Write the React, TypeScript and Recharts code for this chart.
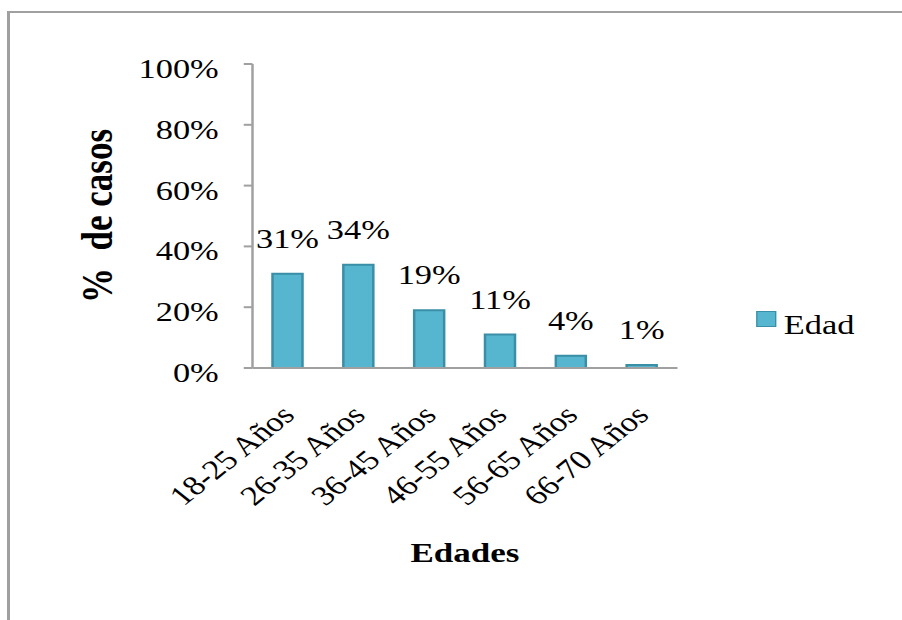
import React from 'react';
import { BarChart, Bar, XAxis, YAxis, LabelList, Legend, Label } from 'recharts';

const categories = ['18-25 Años', '26-35 Años', '36-45 Años', '46-55 Años', '56-65 Años', '66-70 Años'];
const edadValues = [31, 34, 19, 11, 4, 1];
const yTicks = [0, 20, 40, 60, 80, 100];
const seriesName = 'Edad';
const xTitle = 'Edades';
const yTitle = '%  de casos';

const data = categories.map((c, i) => ({ category: c, edad: edadValues[i] }));

const FONT = '"Liberation Serif", "Times New Roman", Times, serif';
const STRETCH = 1.25;
const FILL = '#57b6cf';
const STROKE = '#3a8ea6';
const AXIS = '#a0a0a0';

const XTick = (props: any) => {
  const { x, y, payload } = props;
  return (
    <g transform={`translate(${x},${y})`}>
      <text textAnchor="end" transform="rotate(-45)" dy="0.34em" fontSize={27.5} fontFamily={FONT} fill="#000">
        {payload.value}
      </text>
    </g>
  );
};

const YTick = (props: any) => {
  const { x, y, payload } = props;
  return (
    <text x={x} y={y} dy={14} textAnchor="end" fontSize={27.5} fontFamily={FONT} fill="#000">
      {`${payload.value}%`}
    </text>
  );
};

const renderYTitle = (props: any) => {
  const vb = props.viewBox || {};
  const cx = (vb.x || 0) + 78;
  const cy = (vb.y || 0) + (vb.height || 0) / 2;
  return (
    <text
      x={cx}
      y={cy}
      transform={`rotate(-90 ${cx} ${cy})`}
      textAnchor="middle"
      dominantBaseline="central"
      fontSize={35}
      fontWeight="bold"
      fontFamily={FONT}
      fill="#000"
      style={{ whiteSpace: 'pre' }}
    >
      {yTitle}
    </text>
  );
};

const renderXTitle = (props: any) => {
  const vb = props.viewBox || {};
  const cx = (vb.x || 0) + (vb.width || 0) / 2;
  const by = (vb.y || 0) + 194;
  return (
    <text x={cx} y={by} textAnchor="middle" fontSize={28} fontWeight="bold" fontFamily={FONT} fill="#000">
      {xTitle}
    </text>
  );
};

const renderLegend = (props: any) => {
  const items = props.payload || [];
  return (
    <div>
      {items.map((it: any, i: number) => (
        <div key={i} style={{ display: 'flex', alignItems: 'flex-start' }}>
          <span
            style={{
              display: 'inline-block',
              width: 16,
              height: 16,
              marginTop: 2,
              background: FILL,
              border: `1.5px solid ${STROKE}`,
              boxSizing: 'border-box',
            }}
          />
          <span style={{ marginLeft: 6, fontSize: 27.5, fontFamily: FONT, color: '#000', lineHeight: 'normal' }}>
            {it.value}
          </span>
        </div>
      ))}
    </div>
  );
};

export default function App() {
  return (
    <div style={{ position: 'absolute', left: 0, top: 0, width: 902, height: 620, overflow: 'hidden', background: '#fff' }}>
      <div
        style={{
          position: 'absolute',
          left: 7,
          top: 11,
          width: 1200,
          height: 1200,
          borderLeft: `3px solid ${AXIS}`,
          borderTop: `2px solid ${AXIS}`,
        }}
      />
      <div style={{ position: 'absolute', left: 0, top: 0, width: 722, height: 620, transform: `scaleX(${STRETCH})`, transformOrigin: '0 0' }}>
        <BarChart width={722} height={620} data={data} margin={{ top: 64, right: 180, bottom: 52, left: 0 }} barSize={24}>
          <XAxis
            dataKey="category"
            interval={0}
            tickLine={false}
            tickSize={0}
            tickMargin={42}
            tick={<XTick />}
            axisLine={{ stroke: AXIS, strokeWidth: 2 }}
            height={200}
          >
            <Label content={renderXTitle} />
          </XAxis>
          <YAxis
            width={202}
            domain={[0, 100]}
            ticks={yTicks}
            interval={0}
            tickSize={7}
            tickMargin={20}
            tick={<YTick />}
            tickLine={{ stroke: AXIS, strokeWidth: 2 }}
            axisLine={{ stroke: AXIS, strokeWidth: 2 }}
          >
            <Label content={renderYTitle} />
          </YAxis>
          <Legend
            layout="horizontal"
            align="center"
            verticalAlign="middle"
            content={renderLegend}
            wrapperStyle={{ left: 605, top: 309, width: 'auto', height: 'auto' }}
          />
          <Bar dataKey="edad" name={seriesName} fill={FILL} stroke={STROKE} strokeWidth={2} isAnimationActive={false}>
            <LabelList
              dataKey="edad"
              position="top"
              offset={26}
              formatter={(v: any) => `${v}%`}
              fill="#000"
              fontSize={27.5}
              fontFamily={FONT}
            />
          </Bar>
        </BarChart>
      </div>
    </div>
  );
}
